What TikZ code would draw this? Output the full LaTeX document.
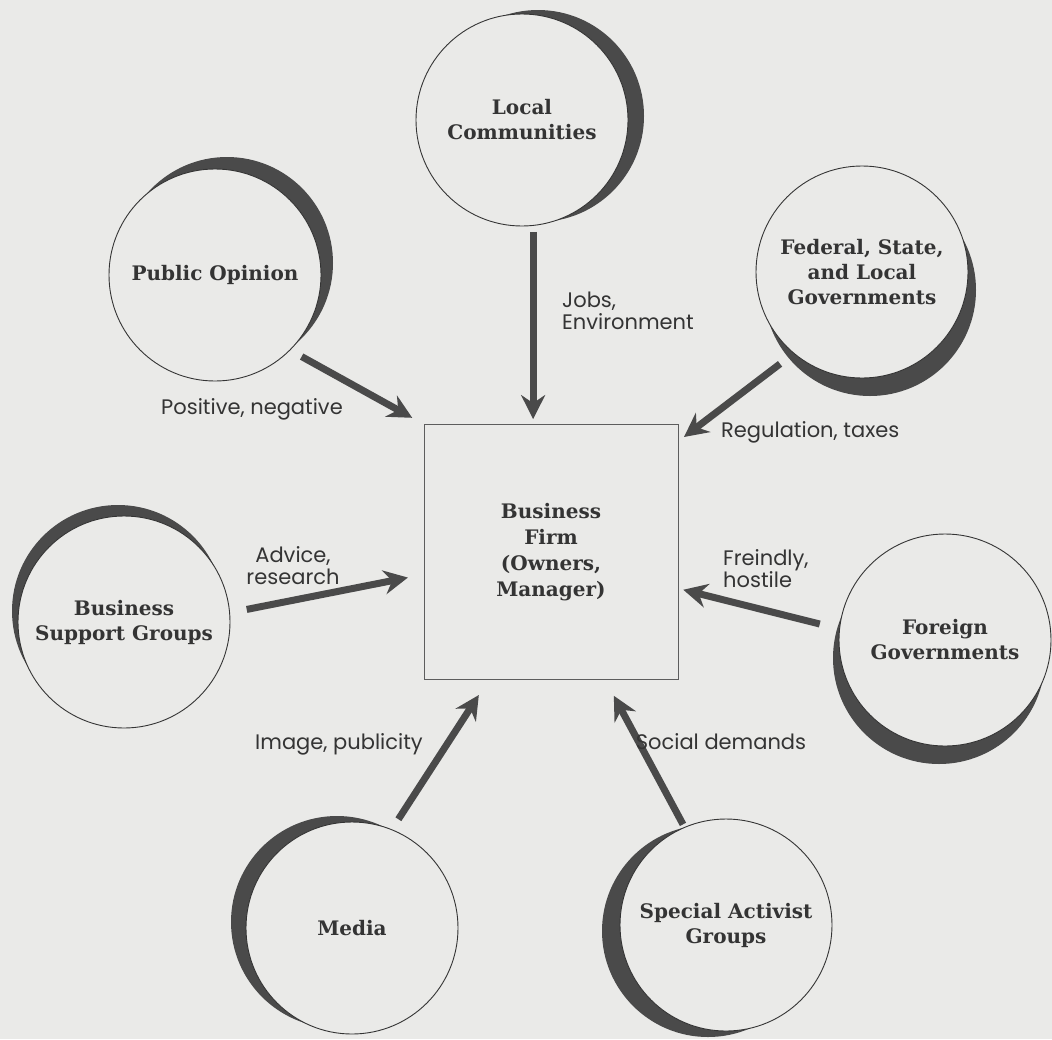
\documentclass[tikz,border=0pt]{standalone}
\usepackage{fontspec}
\newfontfamily\circfont{DejaVu Serif}
\newfontfamily\lblfont{Poppins}
\usetikzlibrary{arrows.meta}
\definecolor{paper}{RGB}{234,234,232}
\definecolor{ink}{RGB}{52,52,52}
\definecolor{crescent}{RGB}{74,74,74}
\tikzset{
	party/.style={circle, draw=ink, line width=.9pt, fill=paper, minimum size=212pt, inner sep=0pt, align=center,
		font=\circfont\bfseries\fontsize{20}{25}\selectfont, text=ink},
	firmbox/.style={rectangle, draw=ink!80, line width=.8pt, fill=paper, minimum width=254pt, minimum height=255pt,
		align=center, font=\circfont\bfseries\fontsize{20}{26}\selectfont, text=ink},
	pull/.style={line width=7pt, draw=crescent, -{Stealth[length=24pt,width=24pt,inset=8pt]}},
	lbl/.style={font=\lblfont\fontsize{21}{22}\selectfont, text=ink, inner sep=0pt}
}
\begin{document}
\begin{tikzpicture}[x=1pt,y=-1pt]
		\fill[paper] (0,0) rectangle (1052,1039);
		\useasboundingbox (0,0) rectangle (1052,1039);
		
		% crescent shadows behind the circles
		\foreach \cx/\cy/\dx/\dy in {522/120/16/-4, 215/275/12/-12, 862/272/8/18, 124/622/-6/-11,
			945/640/-6/18, 352/928/-15/-6, 726/925/-18/6}
			\fill[crescent] (\cx+\dx,\cy+\dy) circle (106pt);
		
		\node[party] (lc) at (522,120) {Local\\Communities};
		\node[party] (pubop) at (215,275) {Public Opinion};
		\node[party] (fed) at (862,272) {Federal, State,\\and Local\\Governments};
		\node[party] (bsg) at (124,622) {Business\\Support Groups};
		\node[party] (forgov) at (945,640) {Foreign\\Governments};
		\node[party] (media) at (352,928) {Media};
		\node[party] (sag) at (726,925) {Special Activist\\Groups};
		
		\node[firmbox] (firm) at (551,552) {Business\\Firm\\(Owners,\\Manager)};
		
		\draw[pull, shorten <=6pt, shorten >=5pt] (lc.-84) -- (lc.-84 |- firm.north);
		\draw[pull, shorten <=13pt, shorten >=13pt] (pubop.-45) -- (firm.north west);
		\draw[pull, shorten <=17pt, shorten >=7pt] (fed.230) -- (firm.41);
		\draw[pull, shorten <=17pt, shorten >=16pt] (bsg.5) -- (firm.190);
		\draw[pull, shorten <=20pt, shorten >=5pt] (forgov.174) -- (firm.-16);
		\draw[pull, shorten <=12pt, shorten >=18pt] (media.68) -- (firm.244);
		\draw[pull, shorten <=3pt, shorten >=18pt] (sag.113) -- (firm.-67.5);
		
		\node[lbl, anchor=west, align=left] (jobs) at (562,311) {Jobs,\\Environment};
		\node[lbl] (posneg) at (252,409) {Positive, negative};
		\node[lbl, anchor=west] (regtax) at (721,432) {Regulation, taxes};
		\node[lbl, align=center] (advice) at (293,566) {Advice,\\research};
		\node[lbl, anchor=west, align=left] (friend) at (723,569) {Freindly,\\hostile};
		\node[lbl] (image) at (339,744) {Image, publicity};
		\node[lbl] (social) at (721,742) {Social demands};
\end{tikzpicture}
\end{document}
